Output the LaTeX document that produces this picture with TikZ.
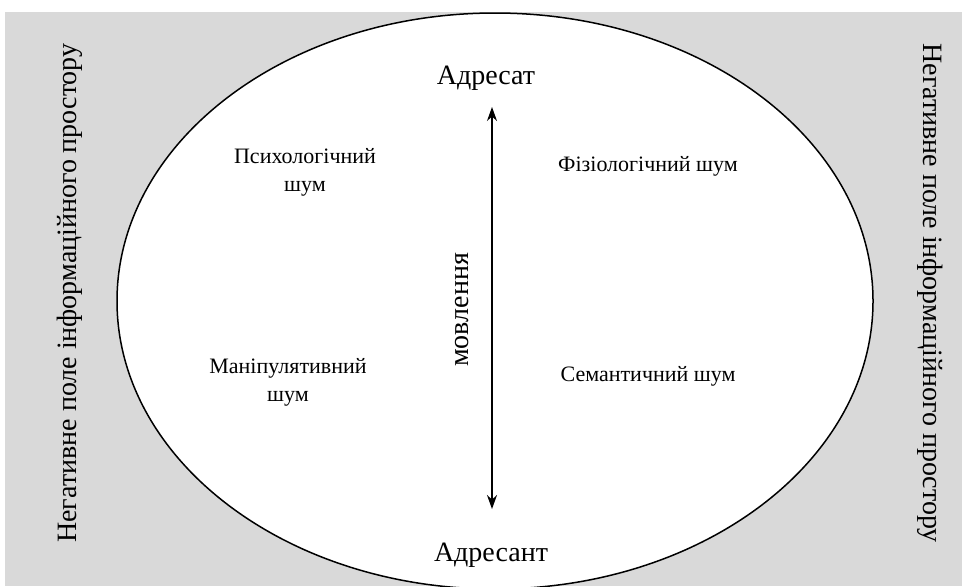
\documentclass[tikz,border=0pt]{standalone}
\usepackage{fontspec}
\setmainfont{Liberation Serif}
\newfontfamily\diagfont{Liberation Serif}
\usetikzlibrary{arrows.meta, positioning}

\begin{document}
\begin{tikzpicture}[x=0.5pt, y=-0.5pt,
    label/.style={font=\diagfont\fontsize{11}{14}\selectfont, align=center},
    role/.style={font=\diagfont\fontsize{14}{16}\selectfont},
    side/.style={font=\diagfont\fontsize{14}{16}\selectfont}]
    \useasboundingbox (0,0) rectangle (962,586);
    \clip (0,0) rectangle (962,586);
    \fill[black!15] (5,12) rectangle (962,586);
    \draw[fill=white, line width=0.75pt] (495,301) ellipse [x radius=378, y radius=288];

    \node[role] (adresat) at (486,78) {Адресат};
    \node[role] (adresant) at (491,555) {Адресант};
    \coordinate (top) at (492,107);
    \coordinate (bottom) at (492,509);
    \draw[thick, {Stealth[length=7pt,width=5pt]}-{Stealth[length=7pt,width=5pt]}] (top) -- (bottom);
    \node[role, rotate=90] (movl) at (462,310) {мовлення};

    \node[label] (psych) at (305,172) {Психологічний\\шум};
    \node[label] (phys) at (648,166) {Фізіологічний шум};
    \node[label] (manip) at (288,382) {Маніпулятивний\\шум};
    \node[label] (sem) at (648,376) {Семантичний шум};

    \node[side, rotate=90] (left) at (70,293) {Негативне поле інформаційного простору};
    \node[side, rotate=-90] (right) at (930,293) {Негативне поле інформаційного простору};
\end{tikzpicture}
\end{document}
